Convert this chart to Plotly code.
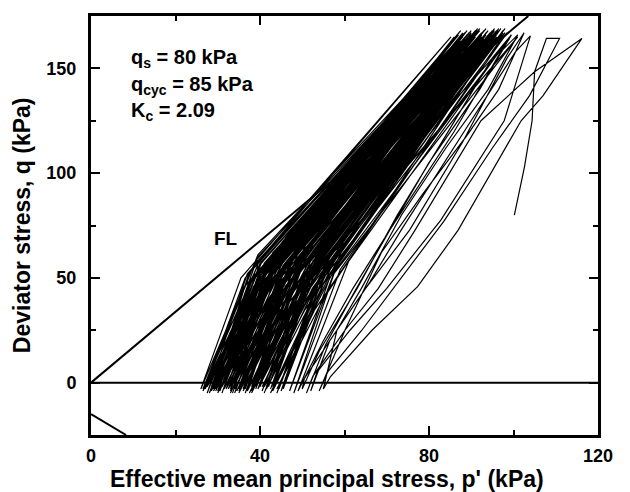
import plotly.graph_objects as go

# ---------------- data ----------------
# Failure line (FL) and its extension-side counterpart
fl_p = [0.0, 103.5]
fl_q = [0.0, 175.0]
ext_p = [0.0, 8.3]
ext_q = [-15.0, -25.0]
zero_p = [0.0, 120.0]
zero_q = [0.0, 0.0]

# Early (sparse) part of the stress path, incl. the initial loading from (100, 80)
sparse_p = [100.2, 102.6, 104.4, 105.0, 107.8, 110.9,
            103.8, 95.0, 83.5, 73.4, 64.1, 56.0, 54.0,
            60.1, 68.0, 76.7, 92.3, 105.0, 116.2,
            107.0, 101.8, 86.9, 77.3, 66.5, 56.7, 55.0,
            58.2, 66.0, 73.4, 89.0, 100.5, 104.0,
            97.8, 82.8, 76.0, 70.0, 61.3, 53.5, 52.0,
            56.5, 65.0, 75.4, 88.0, 98.5, 102.5,
            96.5, 89.0, 78.5, 68.7, 60.1, 52.5, 51.0,
            55.5, 62.0, 70.7, 86.0, 97.0, 101.0,
            94.0, 84.0, 73.5, 64.0, 58.2, 50.5, 50.0,
            54.0, 63.0, 72.5, 84.0, 95.0, 99.5,
            92.0, 80.0, 70.7, 62.0, 55.0, 49.0]
sparse_q = [80.0, 103.0, 125.0, 148.4, 164.3, 164.3,
            137.0, 112.0, 77.0, 50.0, 25.0, 5.0, -4.0,
            25.0, 45.0, 72.8, 125.0, 148.4, 164.3,
            137.0, 125.0, 72.8, 45.8, 25.0, 2.9, -3.0,
            25.0, 48.0, 72.8, 122.0, 158.0, 165.5,
            125.0, 77.6, 60.0, 45.0, 25.0, 5.0, -4.0,
            20.0, 45.0, 72.8, 115.0, 155.0, 167.0,
            140.0, 118.0, 90.0, 62.0, 25.0, 3.0, -5.0,
            18.0, 42.0, 72.8, 120.0, 158.0, 166.0,
            140.0, 112.0, 80.0, 45.0, 25.0, 2.0, -3.0,
            15.0, 45.0, 80.0, 118.0, 155.0, 166.0,
            140.0, 105.0, 72.8, 45.0, 20.0, -4.0]

# Dense band, first group of cycles: up-leg mid point, peak, down-leg mid point, trough
dense_umid_p = [61, 58, 56.5, 59, 55.5, 54, 56, 53.5, 55, 52.5,
                54, 51.5, 53, 50.5, 52, 49.5, 51, 49, 50, 47.5,
                49, 47, 48, 46, 47.5, 45, 46.5, 44, 45.5, 43.5,
                44.5, 42.5, 44, 41.5, 43, 41, 42, 40, 41.5, 39.5,
                42, 40.5, 41.5, 39.5, 41, 39, 40, 38.5, 40.5, 42.5]
dense_umid_q = [58, 55, 60, 54, 57, 62, 56, 59, 53, 58,
                61, 55, 57, 60, 54, 59, 56, 62, 55, 58,
                53, 57, 60, 56, 59, 54, 58, 61, 55, 57,
                60, 53, 58, 56, 62, 55, 59, 57, 54, 60,
                56, 58, 55, 61, 57, 54, 59, 56, 58, 60]
dense_top_p = [99.5, 97.5, 101, 98.5, 96.5, 99, 97.5, 96, 97, 98,
               95, 96.5, 96, 94.5, 95.5, 94, 95, 93.5, 94.5, 93,
               94, 92.5, 93.5, 92, 93, 91.5, 92.5, 91, 92, 90.5,
               91.5, 90, 91, 89.5, 90.5, 89, 90, 88.5, 89.5, 88,
               89, 87.5, 88.5, 87, 86, 88, 85.2, 87, 90, 92]
dense_top_q = [166, 168, 165, 167, 169, 164, 167, 168, 165, 169,
               166, 168, 164, 167, 169, 165, 168, 166, 167, 163,
               168, 165, 169, 166, 164, 168, 167, 165, 169, 166,
               163, 167, 168, 165, 166, 164, 168, 162, 167, 165,
               166, 163, 167, 164, 161, 166, 165, 163, 166, 168]
dense_dmid_p = [56.5, 55, 57.5, 54, 52.5, 53.5, 52, 53.5, 51, 52.5,
                50, 51.5, 50, 50.5, 48, 49.5, 47.5, 48.5, 46, 47.5,
                44.5, 46.5, 44.5, 46, 43.5, 45, 42.5, 44, 42, 43,
                41, 42.5, 40, 42.5, 39.5, 40.5, 38.5, 40, 38, 39,
                37.5, 37.5, 36.5, 38, 36, 37, 35.5, 37.5, 39.5, 42]
dense_dmid_q = [50, 47, 52, 49, 53, 46, 51, 48, 54, 50,
                47, 52, 49, 45, 51, 53, 48, 50, 46, 52,
                49, 54, 47, 51, 50, 48, 53, 46, 50, 52,
                49, 47, 51, 54, 48, 50, 46, 52, 49, 51,
                47, 53, 50, 48, 45, 52, 50, 47, 51, 49]
dense_bot_p = [47.0, 45.5, 48.0, 44.5, 43.0, 45.0, 42.5, 44.0, 41.5, 43.0,
               40.5, 42.0, 39.5, 41.0, 38.5, 40.0, 38.0, 39.0, 36.5, 38.0,
               36.0, 37.0, 35.0, 36.5, 34.0, 35.5, 33.0, 34.5, 32.5, 33.5,
               31.5, 33.0, 30.5, 32.0, 30.0, 31.0, 29.0, 30.5, 28.5, 29.5,
               28.0, 29.0, 27.0, 28.5, 26.5, 27.5, 26.0, 28.0, 30.0, 32.5]
dense_bot_q = [-4, -3, -5, -3, -2, -4, -3, -5, -2, -3,
               -4, -2, -3, -5, -3, -2, -4, -3, -5, -2,
               -3, -4, -2, -3, -5, -3, -4, -2, -3, -5,
               -2, -3, -4, -3, -2, -5, -3, -4, -2, -3,
               -5, -3, -2, -4, -3, -5, -3, -2, -4, -3]

# Dense band, second group of cycles
dense2_umid_p = [46.1, 55.0, 59.2, 50.7, 58.1, 51.8, 58.7, 48.5, 55.6, 53.2,
                 50.5, 53.7, 50.3, 44.5, 54.1, 46.1, 53.2, 43.8, 49.6, 45.1,
                 53.2, 41.0, 48.9, 41.8, 46.3, 46.9, 42.3, 43.9, 42.6, 46.0,
                 39.3, 41.4, 44.9, 38.8, 42.9, 40.3, 46.9, 40.0, 47.1, 46.6]
dense2_umid_q = [50, 40, 62, 35, 56, 45, 68, 38, 52, 60,
                 42, 66, 47, 34, 58, 44, 64, 39, 54, 48,
                 70, 36, 59, 43, 51, 65, 41, 57, 46, 69,
                 37, 53, 61, 45, 55, 49, 63, 40, 58, 50]
dense2_top_p = [98, 96, 97, 95.5, 96.5, 94.5, 95.5, 97, 94, 95.5,
                92.5, 94.5, 93, 93.5, 92.5, 91.5, 92, 90.5, 91.5, 90,
                91, 89.5, 90.5, 89, 90, 88.5, 89.5, 88, 89, 87.5,
                88.5, 87, 86.5, 88, 86, 89, 90.5, 91, 93, 94.5]
dense2_top_q = [167, 165, 169, 166, 168, 164, 167, 169, 165, 168,
                166, 163, 168, 167, 165, 169, 164, 166, 168, 165,
                167, 163, 166, 168, 164, 167, 165, 162, 166, 168,
                164, 166, 163, 167, 165, 162, 166, 168, 165, 167]
dense2_dmid_p = [53.0, 58.7, 52.4, 60.4, 47.4, 54.3, 48.2, 56.5, 46.8, 55.9,
                 46.7, 52.0, 43.6, 54.0, 46.1, 53.9, 42.3, 48.1, 43.2, 50.9,
                 39.1, 47.3, 41.7, 48.2, 39.5, 48.4, 37.3, 43.6, 38.0, 44.2,
                 36.5, 45.2, 34.8, 40.6, 38.0, 46.0, 39.2, 45.5, 42.0, 50.0]
dense2_dmid_q = [35, 65, 45, 70, 30, 55, 40, 60, 38, 68,
                 42, 58, 33, 62, 48, 72, 36, 52, 44, 66,
                 31, 57, 46, 63, 39, 70, 34, 54, 41, 61,
                 37, 67, 32, 50, 43, 64, 40, 56, 35, 60]
dense2_bot_p = [44, 42.5, 41, 43, 39.5, 40.5, 38, 41.5, 37, 39,
                36, 37.5, 35, 38.5, 34, 36, 33, 35, 32, 34.5,
                31, 33, 30, 32.5, 29.5, 31, 28.5, 30, 27.5, 29,
                27, 28.5, 26.5, 28, 27, 30, 29, 31.5, 33, 35]
dense2_bot_q = [-3, -5, -2, -4, -3, -2, -5, -3, -4, -2,
                -3, -5, -4, -2, -3, -4, -2, -5, -3, -4,
                -2, -3, -5, -3, -4, -2, -3, -5, -2, -4,
                -3, -2, -4, -5, -3, -2, -4, -3, -5, -3]

x_ticks = [0, 40, 80, 120]
x_minor = [20, 60, 100]
y_ticks = [0, 50, 100, 150]
y_minor = [25, 75, 125]

# ---------------- build the full stress path ----------------
path_p = list(sparse_p)
path_q = list(sparse_q)
for i in range(len(dense_top_p)):
    path_p += [dense_umid_p[i], dense_top_p[i], dense_dmid_p[i], dense_bot_p[i]]
    path_q += [dense_umid_q[i], dense_top_q[i], dense_dmid_q[i], dense_bot_q[i]]
for i in range(len(dense2_top_p)):
    path_p += [dense2_umid_p[i], dense2_top_p[i], dense2_dmid_p[i], dense2_bot_p[i]]
    path_q += [dense2_umid_q[i], dense2_top_q[i], dense2_dmid_q[i], dense2_bot_q[i]]

FONT = "Liberation Sans, Arial, Helvetica, sans-serif"

fig = go.Figure()
fig.add_trace(go.Scatter(x=zero_p, y=zero_q, mode="lines",
                         line=dict(color="black", width=2), hoverinfo="skip"))
fig.add_trace(go.Scatter(x=fl_p, y=fl_q, mode="lines",
                         line=dict(color="black", width=2), hoverinfo="skip"))
fig.add_trace(go.Scatter(x=ext_p, y=ext_q, mode="lines",
                         line=dict(color="black", width=2), hoverinfo="skip"))
fig.add_trace(go.Scatter(x=path_p, y=path_q, mode="lines",
                         line=dict(color="black", width=1.2), hoverinfo="skip"))

axis_common = dict(
    showgrid=False, zeroline=False, showline=True, linecolor="black", linewidth=3,
    mirror="allticks", ticks="inside", ticklen=9, tickwidth=2, tickcolor="black",
    tickfont=dict(family=FONT, size=18, color="black", weight="bold"),
)
fig.update_xaxes(range=[0, 120], tickvals=x_ticks, ticktext=[str(v) for v in x_ticks],
                 minor=dict(tickvals=x_minor, ticks="inside", ticklen=5, tickwidth=2,
                            tickcolor="black"),
                 ticklabelstandoff=2, **axis_common)
fig.update_yaxes(range=[-25, 175], tickvals=y_ticks, ticktext=[str(v) for v in y_ticks],
                 minor=dict(tickvals=y_minor, ticks="inside", ticklen=5, tickwidth=2,
                            tickcolor="black"),
                 ticklabelstandoff=8, **axis_common)

ann_font = dict(family=FONT, size=20, color="black")
annotations = [
    dict(x=9.0, y=154.5, xref="x", yref="y", xanchor="left", yanchor="middle",
         text="<b>q<sub>s</sub> = 80 kPa</b>", showarrow=False, font=ann_font),
    dict(x=9.0, y=142.0, xref="x", yref="y", xanchor="left", yanchor="middle",
         text="<b>q<sub>cyc</sub> = 85 kPa</b>", showarrow=False, font=ann_font),
    dict(x=9.0, y=129.5, xref="x", yref="y", xanchor="left", yanchor="middle",
         text="<b>K<sub>c</sub> = 2.09</b>", showarrow=False, font=ann_font),
    dict(x=31.9, y=68.8, xref="x", yref="y", xanchor="center", yanchor="middle",
         text="<b>FL</b>", showarrow=False, font=dict(family=FONT, size=19, color="black")),
    dict(x=0.4655, y=-0.105, xref="paper", yref="paper", xanchor="center", yanchor="middle",
         text="<b>Effective mean principal stress, p' (kPa)</b>", showarrow=False,
         font=dict(family=FONT, size=23, color="black")),
    dict(x=-0.136, y=0.501, xref="paper", yref="paper", xanchor="center", yanchor="middle",
         text="<b>Deviator stress, q (kPa)</b>", showarrow=False, textangle=-90,
         font=dict(family=FONT, size=23, color="black")),
]

fig.update_layout(
    width=630, height=492,
    margin=dict(l=91, r=32, t=16, b=57),
    plot_bgcolor="white", paper_bgcolor="white",
    showlegend=False, annotations=annotations,
)

fig.write_html("out.html")
